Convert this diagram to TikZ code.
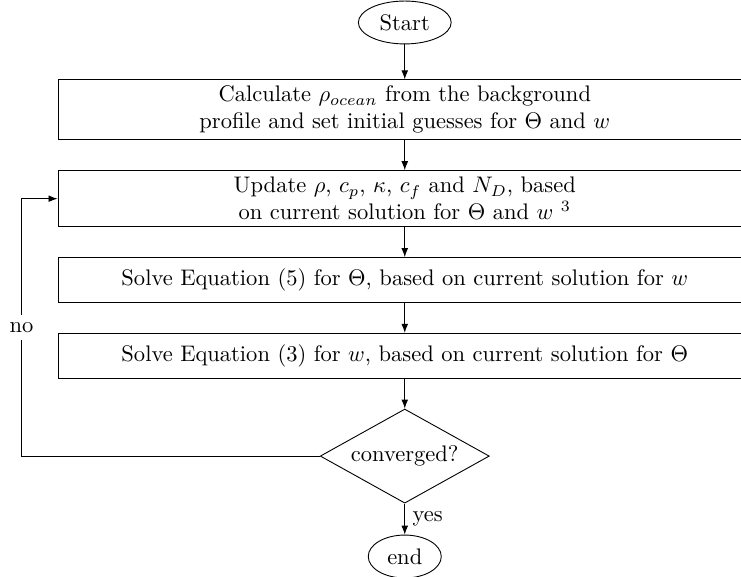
\documentclass[tikz,border=0pt]{standalone}
\usepackage{tikz}
\usetikzlibrary{shapes.geometric, arrows.meta, positioning, calc}
\tikzset{
    proc/.style={rectangle, minimum width=10.83cm, minimum height=0.70cm,
                 align=center, draw=black, inner sep=2pt},
    deci/.style={diamond, minimum width=2.64cm, minimum height=1.47cm,
                 text centered, draw=black, aspect=1.8, inner sep=0pt},
    startstop/.style={ellipse, minimum height=0.67cm, text centered,
                      draw=black, inner sep=1pt},
    arr/.style={-{Latex[length=4pt, width=3pt]}},
}

\begin{document}
\begin{tikzpicture}
    \useasboundingbox (0,0) rectangle (11.57,-9.007);
    \node[startstop, minimum width=1.45cm] (start) at (6.32,-0.351) {Start};
    \node[proc, below=0.546cm of start, minimum height=0.937cm] (calc) {Calculate $\rho_{ocean}$ from the background\\profile and set initial guesses for $\Theta$ and $w$};
    \node[proc, below=0.468cm of calc, minimum height=0.874cm] (update) {Update $\rho$, $c_p$, $\kappa$, $c_f$ and $N_D$, based\\on current solution for $\Theta$ and $w$ $^3$};
    \node[proc, below=0.469cm of update] (solvetheta) {Solve Equation (5) for $\Theta$, based on current solution for $w$};
    \node[proc, below=0.468cm of solvetheta] (solvew) {Solve Equation (3) for $w$, based on current solution for $\Theta$};
    \node[deci, below=0.468cm of solvew] (conv) {converged?};
    \node[startstop, below=0.484cm of conv, minimum width=1.14cm] (stop) {end};

    \draw[arr] (start) -- (calc);
    \draw[arr] (calc) -- (update);
    \draw[arr] (update) -- (solvetheta);
    \draw[arr] (solvetheta) -- (solvew);
    \draw[arr] (solvew) -- (conv);
    \draw[arr] (conv) -- node[right] {yes} (stop);
    \draw[arr] (conv.west) -| node[pos=0.75, fill=white] {no} ([xshift=-0.562cm]update.west) -- (update.west);
\end{tikzpicture}
\end{document}
